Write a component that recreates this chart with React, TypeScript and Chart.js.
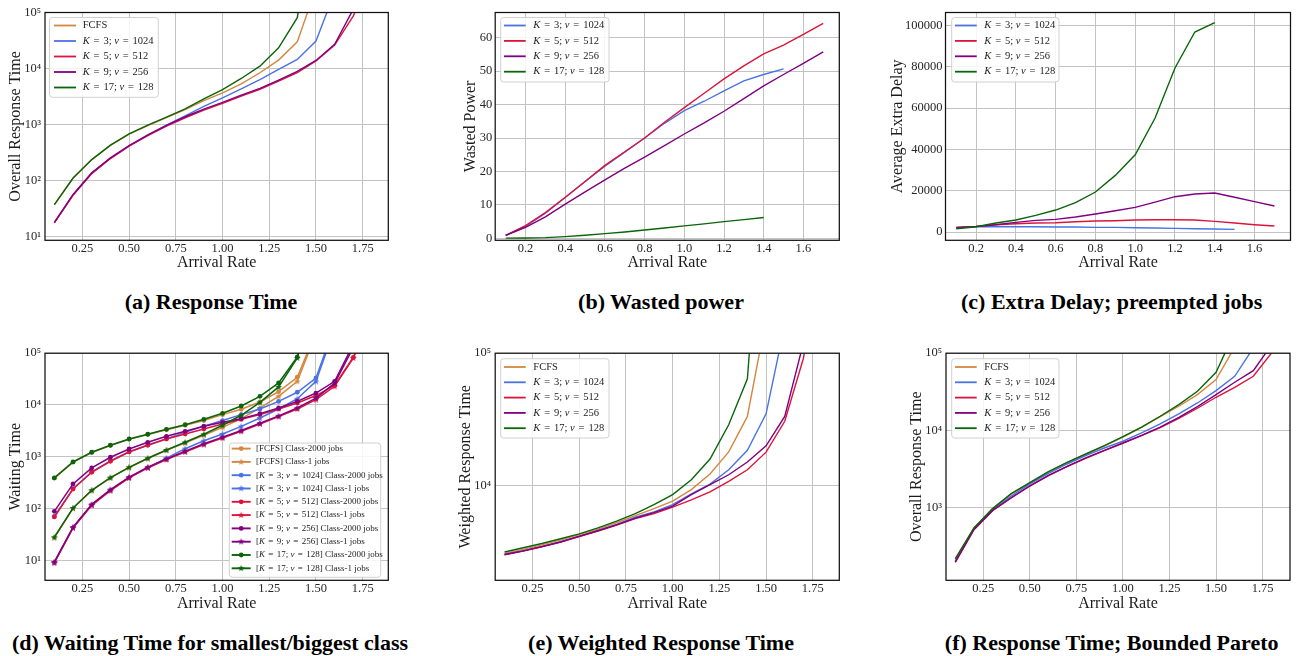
import React, { useEffect, useRef } from "react";
import { Chart, registerables } from "chart.js";

Chart.register(...registerables);

const FONT = '"Liberation Serif", "DejaVu Serif", serif';
const TEXT = "#1c1c1c";
const GRID = "#c3c3c3";
const TITLE_SIZE = 16;
const TICK_SIZE = 12.5;

const C_FCFS = "#d4873f";
const C_K3 = "#4a72e3";
const C_K5 = "#dc143c";
const C_K9 = "#800080";
const C_K17 = "#0a640a";

const L_FCFS = "FCFS";
const L_K3 = "K = 3; ν = 1024";
const L_K5 = "K = 5; ν = 512";
const L_K9 = "K = 9; ν = 256";
const L_K17 = "K = 17; ν = 128";

// arrival rates (x values)
const rates = [0.1, 0.2, 0.3, 0.4, 0.5, 0.6, 0.7, 0.8, 0.9, 1.0, 1.1, 1.2, 1.3, 1.4, 1.5, 1.6, 1.7, 1.8];

// tick labels
const xTicksQuarter = [0.25, 0.5, 0.75, 1.0, 1.25, 1.5, 1.75];
const xTicksFifth = [0.2, 0.4, 0.6, 0.8, 1.0, 1.2, 1.4, 1.6];
const yTicksDecades = [10, 100, 1000, 10000, 100000];
const yTicksPower = [0, 10, 20, 30, 40, 50, 60];
const yTicksDelay = [0, 20000, 40000, 60000, 80000, 100000];
const yTicksWeighted = [10000, 100000];
const yTicksPareto = [1000, 10000, 100000];

// (a) Overall response time
const respFCFS = [36.5, 109, 233, 420, 668, 955, 1320, 1830, 2670, 3670, 5320, 8380, 14100, 30000, 270000];
const respK3 = [17.5, 55, 134, 248, 412, 640, 975, 1420, 2090, 2990, 4330, 6300, 9600, 14500, 30900, 230000];
const respK5 = [17.3, 54, 132, 245, 408, 630, 930, 1315, 1800, 2370, 3200, 4210, 5940, 8380, 13560, 26200, 87000, 500000];
const respK9 = [17.8, 56, 136, 252, 420, 650, 965, 1370, 1880, 2470, 3330, 4400, 6200, 8900, 13900, 27000, 115000, 600000];
const respK17 = [36.8, 110, 235, 425, 678, 970, 1350, 1900, 2860, 4200, 6620, 11000, 23400, 80700, 8000000];

// (b) Wasted power
const powerK3 = [0.9, 3.6, 7.5, 12.2, 17.0, 21.6, 25.8, 30.0, 34.4, 38.2, 41.0, 44.1, 47.1, 49.0, 50.7];
const powerK5 = [0.9, 3.8, 7.7, 12.3, 17.0, 21.8, 25.9, 30.0, 34.7, 39.1, 43.4, 47.7, 51.6, 55.2, 57.8, 61.0, 64.3];
const powerK9 = [0.9, 3.3, 6.4, 10.2, 13.9, 17.5, 21.0, 24.3, 27.7, 31.2, 34.5, 38.0, 41.8, 45.6, 49.0, 52.3, 55.8];
const powerK17 = [0.05, 0.1, 0.2, 0.5, 0.9, 1.4, 1.9, 2.5, 3.1, 3.7, 4.3, 5.0, 5.6, 6.2];

// (c) Average extra delay of preempted jobs
const delayK3 = [2260, 2580, 2580, 2560, 2540, 2420, 2400, 2260, 2240, 2100, 1940, 1770, 1610, 1450, 1290];
const delayK5 = [2260, 2740, 3550, 4030, 4350, 4520, 5000, 5320, 5480, 5800, 5970, 5970, 5800, 5160, 4350, 3550, 2900];
const delayK9 = [2100, 2700, 3530, 4690, 5650, 6130, 7250, 8710, 10300, 11900, 14500, 17100, 18400, 18900, 16800, 14700, 12600];
const delayK17 = [1600, 2580, 4350, 5800, 8060, 10640, 14190, 19350, 27400, 37400, 55150, 79340, 96760, 101270];

// (d) Waiting time, biggest (Class-2000) and smallest (Class-1) class
const waitFCFS2000 = [385, 785, 1210, 1650, 2180, 2680, 3320, 4050, 5000, 6500, 8270, 11400, 18100, 34300, 260000];
const waitFCFS1 = [27.5, 101, 224, 392, 620, 925, 1330, 1850, 2600, 3700, 5450, 8750, 14700, 28600, 240000];
const waitK3_2000 = [70, 242, 510, 830, 1250, 1690, 2240, 2950, 3900, 5000, 6500, 8370, 11700, 17600, 33200, 340000];
const waitK3_1 = [9, 43, 117, 225, 395, 615, 940, 1430, 2040, 2750, 3860, 5600, 8370, 13200, 28600, 300000];
const waitK5_2000 = [68.6, 238, 501, 817, 1236, 1665, 2200, 2750, 3440, 4300, 5290, 6500, 8370, 10950, 15200, 24000, 83400, 600000];
const waitK5_1 = [8.9, 42, 115, 221, 389, 607, 877, 1236, 1715, 2300, 3100, 4300, 5940, 8370, 12700, 22900, 81000, 600000];
const waitK9_2000 = [88, 298, 607, 977, 1410, 1900, 2480, 3100, 3870, 4620, 5440, 6800, 8750, 11750, 17000, 28600, 150000];
const waitK9_1 = [9.3, 43.5, 120, 232, 405, 630, 910, 1280, 1780, 2390, 3220, 4460, 6150, 8800, 13600, 26400, 130000];
const waitK17_2000 = [390, 792, 1220, 1665, 2200, 2715, 3390, 4160, 5280, 6900, 9550, 14700, 26600, 84500, 2000000];
const waitK17_1 = [27.8, 102, 225, 395, 625, 933, 1350, 1900, 2720, 4050, 6320, 11200, 22300, 81000, 2000000];

// (e) Weighted response time
const wrespFCFS = [3050, 3270, 3530, 3840, 4220, 4650, 5200, 5880, 6650, 7570, 9270, 12170, 17870, 33200, 183000];
const wrespK3 = [2990, 3190, 3440, 3730, 4120, 4550, 5050, 5720, 6280, 7130, 8590, 10200, 13100, 18400, 34700, 164000];
const wrespK5 = [2975, 3170, 3420, 3705, 4090, 4500, 4980, 5580, 6100, 6820, 7750, 8920, 10700, 13100, 17800, 30500, 91600, 600000];
const wrespK9 = [2985, 3180, 3430, 3715, 4100, 4520, 5010, 5630, 6200, 6950, 8490, 10100, 12000, 15000, 19900, 33200, 120000];
const wrespK17 = [3120, 3360, 3620, 3930, 4280, 4750, 5340, 6100, 7130, 8490, 11000, 15800, 28700, 64000, 5000000];

// (f) Response time, bounded Pareto
const paretoFCFS = [212, 536, 955, 1490, 2070, 2870, 3790, 4860, 6230, 8170, 10900, 15000, 20500, 29000, 45400, 120000];
const paretoK3 = [200, 522, 930, 1400, 2010, 2760, 3650, 4700, 5890, 7200, 9220, 12080, 16300, 22600, 32700, 50200, 117000];
const paretoK5 = [193, 513, 904, 1320, 1890, 2580, 3370, 4330, 5440, 6780, 8520, 10800, 14300, 19300, 26800, 36100, 50200, 102000];
const paretoK9 = [196, 516, 910, 1330, 1900, 2600, 3400, 4370, 5500, 6850, 8600, 11000, 14700, 20300, 29000, 42000, 59400, 130000];
const paretoK17 = [216, 540, 962, 1505, 2095, 2905, 3840, 4920, 6310, 8270, 11000, 15200, 21500, 32100, 56600, 187000];

interface Series { label: string; color: string; values: number[]; marker?: "circle" | "star"; }
interface LegendGeom { x0: number; y0: number; x1: number; y1: number; row0: number; gap: number; h0: number; h1: number; tx: number; fs: number; }
interface Panel {
  id: string; cx: number; cy: number; cw: number; ch: number;
  L: number; T: number; R: number; B: number;
  yTitleX: number; yTitle: string;
  xMin: number; xMax: number; xTicks: number[]; xDec: number;
  yLog: boolean; yMin: number; yMax: number; yTicks: number[];
  series: Series[]; legend: LegendGeom; lw: number;
}

const fiveSeries = (f: number[], k3: number[], k5: number[], k9: number[], k17: number[]): Series[] => [
  { label: L_FCFS, color: C_FCFS, values: f },
  { label: L_K3, color: C_K3, values: k3 },
  { label: L_K5, color: C_K5, values: k5 },
  { label: L_K9, color: C_K9, values: k9 },
  { label: L_K17, color: C_K17, values: k17 },
];
const fourSeries = (k3: number[], k5: number[], k9: number[], k17: number[]): Series[] => [
  { label: L_K3, color: C_K3, values: k3 },
  { label: L_K5, color: C_K5, values: k5 },
  { label: L_K9, color: C_K9, values: k9 },
  { label: L_K17, color: C_K17, values: k17 },
];

const waitSeries: Series[] = [
  { label: "[FCFS] Class-2000 jobs", color: C_FCFS, values: waitFCFS2000, marker: "circle" },
  { label: "[FCFS] Class-1 jobs", color: C_FCFS, values: waitFCFS1, marker: "star" },
  { label: "[" + L_K3 + "] Class-2000 jobs", color: C_K3, values: waitK3_2000, marker: "circle" },
  { label: "[" + L_K3 + "] Class-1 jobs", color: C_K3, values: waitK3_1, marker: "star" },
  { label: "[" + L_K5 + "] Class-2000 jobs", color: C_K5, values: waitK5_2000, marker: "circle" },
  { label: "[" + L_K5 + "] Class-1 jobs", color: C_K5, values: waitK5_1, marker: "star" },
  { label: "[" + L_K9 + "] Class-2000 jobs", color: C_K9, values: waitK9_2000, marker: "circle" },
  { label: "[" + L_K9 + "] Class-1 jobs", color: C_K9, values: waitK9_1, marker: "star" },
  { label: "[" + L_K17 + "] Class-2000 jobs", color: C_K17, values: waitK17_2000, marker: "circle" },
  { label: "[" + L_K17 + "] Class-1 jobs", color: C_K17, values: waitK17_1, marker: "star" },
];

const PANELS: Panel[] = [
  {
    id: "a", cx: 0, cy: 0, cw: 430, ch: 272, L: 45, T: 12.5, R: 388.3, B: 240.3,
    yTitleX: 15.7, yTitle: "Overall Response Time",
    xMin: 0.05, xMax: 1.887, xTicks: xTicksQuarter, xDec: 2,
    yLog: true, yMin: 8.48, yMax: 100000, yTicks: yTicksDecades,
    series: fiveSeries(respFCFS, respK3, respK5, respK9, respK17),
    legend: { x0: 49.5, y0: 17.5, x1: 158.3, y1: 97.3, row0: 25.5, gap: 15.5, h0: 54, h1: 76, tx: 82.7, fs: 10.5 },
    lw: 1.4,
  },
  {
    id: "b", cx: 430, cy: 0, cw: 430, ch: 272, L: 495.2, T: 12.5, R: 839.3, B: 240.3,
    yTitleX: 470.7, yTitle: "Wasted Power",
    xMin: 0.047, xMax: 1.781, xTicks: xTicksFifth, xDec: 1,
    yLog: false, yMin: -0.6, yMax: 67.55, yTicks: yTicksPower,
    series: fourSeries(powerK3, powerK5, powerK9, powerK17),
    legend: { x0: 500.7, y0: 17.5, x1: 609, y1: 82, row0: 25.5, gap: 15.4, h0: 504, h1: 525.7, tx: 533.3, fs: 10.5 },
    lw: 1.4,
  },
  {
    id: "c", cx: 860, cy: 0, cw: 437, ch: 272, L: 945.5, T: 12.5, R: 1290.5, B: 240.3,
    yTitleX: 897.3, yTitle: "Average Extra Delay",
    xMin: 0.046, xMax: 1.781, xTicks: xTicksFifth, xDec: 1,
    yLog: false, yMin: -4000, yMax: 106200, yTicks: yTicksDelay,
    series: fourSeries(delayK3, delayK5, delayK9, delayK17),
    legend: { x0: 951.7, y0: 17.5, x1: 1059, y1: 82, row0: 25.5, gap: 15.4, h0: 955, h1: 976.7, tx: 984.3, fs: 10.5 },
    lw: 1.4,
  },
  {
    id: "d", cx: 0, cy: 330, cw: 430, ch: 283, L: 45, T: 353.2, R: 388.3, B: 580.3,
    yTitleX: 15.7, yTitle: "Waiting Time",
    xMin: 0.05, xMax: 1.887, xTicks: xTicksQuarter, xDec: 2,
    yLog: true, yMin: 4.1, yMax: 100000, yTicks: yTicksDecades,
    series: waitSeries,
    legend: { x0: 229.3, y0: 443, x1: 380.7, y1: 577.3, row0: 448.6, gap: 13.3, h0: 231.7, h1: 250.7, tx: 256, fs: 9 },
    lw: 1.5,
  },
  {
    id: "e", cx: 430, cy: 330, cw: 430, ch: 283, L: 495.2, T: 353.2, R: 839.3, B: 580.3,
    yTitleX: 466, yTitle: "Weighted Response Time",
    xMin: 0.05, xMax: 1.892, xTicks: xTicksQuarter, xDec: 2,
    yLog: true, yMin: 1905, yMax: 100000, yTicks: yTicksWeighted,
    series: fiveSeries(wrespFCFS, wrespK3, wrespK5, wrespK9, wrespK17),
    legend: { x0: 500.7, y0: 358.7, x1: 609, y1: 438, row0: 367, gap: 15.3, h0: 504, h1: 525.7, tx: 533.3, fs: 10.5 },
    lw: 1.4,
  },
  {
    id: "f", cx: 860, cy: 330, cw: 437, ch: 283, L: 946, T: 353.2, R: 1290, B: 580.3,
    yTitleX: 916.7, yTitle: "Overall Response Time",
    xMin: 0.05, xMax: 1.897, xTicks: xTicksQuarter, xDec: 2,
    yLog: true, yMin: 113, yMax: 100000, yTicks: yTicksPareto,
    series: fiveSeries(paretoFCFS, paretoK3, paretoK5, paretoK9, paretoK17),
    legend: { x0: 951.7, y0: 358.7, x1: 1059, y1: 438, row0: 367, gap: 15.3, h0: 955, h1: 976.7, tx: 984.3, fs: 10.5 },
    lw: 1.4,
  },
];

const CAPTIONS = [
  { text: "(a) Response Time", x: 211, y: 302 },
  { text: "(b) Wasted power", x: 661, y: 302 },
  { text: "(c) Extra Delay; preempted jobs", x: 1111.7, y: 302 },
  { text: "(d) Waiting Time for smallest/biggest class", x: 210, y: 643.3 },
  { text: "(e) Weighted Response Time", x: 661, y: 643.3 },
  { text: "(f) Response Time; Bounded Pareto", x: 1111.7, y: 643.3 },
];

const SUP = "⁰¹²³⁴⁵⁶⁷⁸⁹";
function sup(n: number): string {
  return String(n).split("").map((d) => SUP[+d]).join("");
}

const starCache: Record<string, HTMLCanvasElement> = {};
function starImage(color: string): HTMLCanvasElement {
  if (starCache[color]) return starCache[color];
  const c = document.createElement("canvas");
  c.width = 8;
  c.height = 8;
  const g = c.getContext("2d")!;
  const ro = 3.5, ri = 1.45;
  g.beginPath();
  for (let k = 0; k < 10; k++) {
    const r = k % 2 === 0 ? ro : ri;
    const ang = -Math.PI / 2 + (k * Math.PI) / 5;
    const px = 4 + r * Math.cos(ang);
    const py = 4.2 + r * Math.sin(ang);
    if (k === 0) g.moveTo(px, py);
    else g.lineTo(px, py);
  }
  g.closePath();
  g.fillStyle = color;
  g.fill();
  starCache[color] = c;
  return c;
}

function drawRich(ctx: CanvasRenderingContext2D, text: string, x: number, y: number, fs: number) {
  const parts = text.split(/(K|ν|=)/).filter((p) => p.length > 0);
  ctx.textBaseline = "middle";
  ctx.textAlign = "left";
  ctx.fillStyle = TEXT;
  let cx = x;
  for (const p of parts) {
    const italic = p === "K" || p === "ν";
    ctx.font = `${italic ? "italic " : ""}${fs}px ${FONT}`;
    const pad = p === "=" ? fs * 0.12 : 0;
    cx += pad;
    ctx.fillText(p, cx, y);
    cx += ctx.measureText(p).width + pad;
  }
}

function drawLegend(ctx: CanvasRenderingContext2D, p: Panel) {
  const g = p.legend;
  const ox = p.cx, oy = p.cy;
  const x = g.x0 - ox, y = g.y0 - oy, w = g.x1 - g.x0, h = g.y1 - g.y0, r = 3;
  ctx.beginPath();
  ctx.moveTo(x + r, y);
  ctx.arcTo(x + w, y, x + w, y + h, r);
  ctx.arcTo(x + w, y + h, x, y + h, r);
  ctx.arcTo(x, y + h, x, y, r);
  ctx.arcTo(x, y, x + w, y, r);
  ctx.closePath();
  ctx.fillStyle = "rgba(255,255,255,0.85)";
  ctx.fill();
  ctx.strokeStyle = "#d0d0d0";
  ctx.lineWidth = 1;
  ctx.stroke();
  p.series.forEach((s, i) => {
    const yy = g.row0 + i * g.gap - oy;
    ctx.strokeStyle = s.color;
    ctx.lineWidth = p.lw + 0.4;
    ctx.beginPath();
    ctx.moveTo(g.h0 - ox, yy);
    ctx.lineTo(g.h1 - ox, yy);
    ctx.stroke();
    const mx = (g.h0 + g.h1) / 2 - ox;
    if (s.marker === "circle") {
      ctx.fillStyle = s.color;
      ctx.beginPath();
      ctx.arc(mx, yy, 2.4, 0, Math.PI * 2);
      ctx.fill();
    } else if (s.marker === "star") {
      ctx.drawImage(starImage(s.color), mx - 4, yy - 4.2);
    }
    drawRich(ctx, s.label, g.tx - ox, yy, g.fs);
  });
}

function makeOverlay(p: Panel) {
  return {
    id: "overlay" + p.id,
    afterDatasetsDraw(chart: any) {
      const ctx = chart.ctx as CanvasRenderingContext2D;
      const a = chart.chartArea;
      ctx.save();
      ctx.strokeStyle = "#111111";
      ctx.lineWidth = 1.25;
      ctx.strokeRect(a.left, a.top, a.right - a.left, a.bottom - a.top);
      drawLegend(ctx, p);
      ctx.restore();
    },
  };
}

function makeDataset(s: Series, i: number, n: number, lw: number) {
  return {
    label: s.label,
    data: s.values.map((v, k) => ({ x: rates[k], y: v })),
    borderColor: s.color,
    backgroundColor: s.color,
    borderWidth: lw,
    pointRadius: s.marker ? 2.4 : 0,
    pointHoverRadius: 0,
    pointStyle: s.marker === "star" ? starImage(s.color) : "circle",
    pointBorderWidth: 0,
    pointBackgroundColor: s.color,
    pointBorderColor: s.color,
    tension: 0,
    fill: false,
    order: n - i,
  };
}

function buildConfig(p: Panel): any {
  const titleHalf = (TITLE_SIZE * 1.2) / 2;
  const pl = p.yTitleX - p.cx - titleHalf;
  const yw = p.L - p.cx - pl;
  const pt = p.T - p.cy;
  const pr = p.cx + p.cw - p.R;
  const xh = p.ch - (p.B - p.cy);
  const n = p.series.length;
  const tickFont = { family: FONT, size: TICK_SIZE };
  const titleFont = { family: FONT, size: TITLE_SIZE };
  return {
    type: "line",
    data: { datasets: p.series.map((s, i) => makeDataset(s, i, n, p.lw)) },
    options: {
      responsive: false,
      animation: false,
      events: [],
      layout: { padding: { left: pl, top: pt, right: pr, bottom: 0 } },
      plugins: { legend: { display: false }, tooltip: { enabled: false }, title: { display: false } },
      scales: {
        x: {
          type: "linear",
          min: p.xMin,
          max: p.xMax,
          afterBuildTicks: (s: any) => {
            s.ticks = p.xTicks.map((v) => ({ value: v }));
          },
          afterFit: (s: any) => {
            s.height = xh;
          },
          ticks: {
            callback: (v: any) => Number(v).toFixed(p.xDec),
            font: tickFont,
            color: "#262626",
            padding: 1,
            autoSkip: false,
            maxRotation: 0,
            minRotation: 0,
          },
          grid: { color: GRID, lineWidth: 1, drawTicks: false },
          border: { display: false },
          title: { display: true, text: "Arrival Rate", font: titleFont, color: TEXT, padding: 0 },
        },
        y: {
          type: p.yLog ? "logarithmic" : "linear",
          min: p.yMin,
          max: p.yMax,
          afterBuildTicks: (s: any) => {
            s.ticks = p.yTicks.map((v) => ({ value: v }));
          },
          afterFit: (s: any) => {
            s.width = yw;
          },
          ticks: {
            callback: (v: any) => (p.yLog ? "10" + sup(Math.round(Math.log10(Number(v)))) : String(v)),
            font: tickFont,
            color: "#262626",
            padding: p.yLog ? 4 : 3,
            autoSkip: false,
          },
          grid: { color: GRID, lineWidth: 1, drawTicks: false },
          border: { display: false },
          title: { display: true, text: p.yTitle, font: titleFont, color: TEXT, padding: 0 },
        },
      },
    },
    plugins: [makeOverlay(p)],
  };
}

export default function App() {
  const refs = useRef<(HTMLCanvasElement | null)[]>([]);
  useEffect(() => {
    const charts = PANELS.map((p, i) => new Chart(refs.current[i] as HTMLCanvasElement, buildConfig(p)));
    return () => charts.forEach((c) => c.destroy());
  }, []);
  return (
    <div style={{ position: "absolute", left: 0, top: 0, width: 1297, height: 656, background: "#ffffff", overflow: "hidden" }}>
      {PANELS.map((p, i) => (
        <canvas
          key={p.id}
          ref={(el) => {
            refs.current[i] = el;
          }}
          width={p.cw}
          height={p.ch}
          style={{ position: "absolute", left: p.cx, top: p.cy, width: p.cw, height: p.ch }}
        />
      ))}
      {CAPTIONS.map((c) => (
        <div
          key={c.text}
          style={{
            position: "absolute",
            left: c.x,
            top: c.y,
            transform: "translate(-50%, -50%)",
            font: `bold 22px ${FONT}`,
            lineHeight: 1,
            whiteSpace: "nowrap",
            color: "#000000",
          }}
        >
          {c.text}
        </div>
      ))}
    </div>
  );
}
